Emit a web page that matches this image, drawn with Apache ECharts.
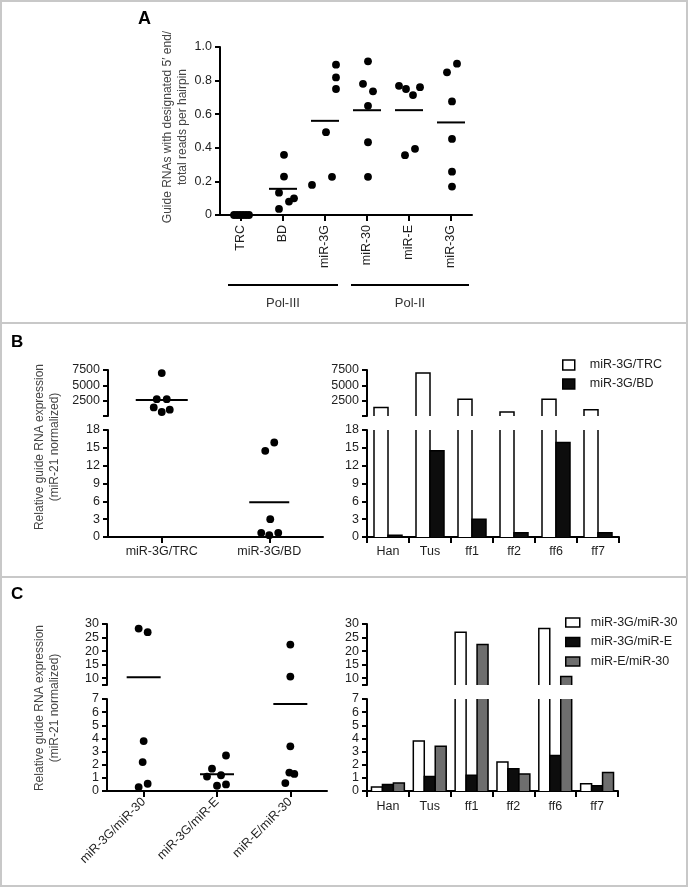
<!DOCTYPE html>
<html><head><meta charset="utf-8">
<script src="https://cdn.jsdelivr.net/npm/echarts@6/dist/echarts.min.js"></script>
<style>html,body{margin:0;padding:0;background:#fff}#c{width:688px;height:887px}</style>
</head><body><div id="c"></div>
<script>
const FONT = '"Liberation Sans", Arial, Helvetica, sans-serif';

// ---------- Panel A data ----------
const catsA = ['TRC', 'BD', 'miR-3G', 'miR-30', 'miR-E', 'miR-3G'];
const A_TRC = [0, 0, 0, 0, 0, 0];
const A_BD = [0.358, 0.229, 0.133, 0.080, 0.099, 0.036];
const A_miR3G_III = [0.895, 0.819, 0.750, 0.493, 0.179, 0.227];
const A_miR30 = [0.915, 0.781, 0.736, 0.650, 0.433, 0.227];
const A_miRE = [0.769, 0.750, 0.714, 0.761, 0.394, 0.356];
const A_miR3G_II = [0.901, 0.849, 0.676, 0.453, 0.258, 0.169];
const A_yTicks = [0, 0.2, 0.4, 0.6, 0.8, 1.0];
const polLabels = ['Pol-III', 'Pol-II'];

// ---------- Panels B & C data ----------
const cellLines = ['Han', 'Tus', 'ff1', 'ff2', 'ff6', 'ff7'];
const catsB = ['miR-3G/TRC', 'miR-3G/BD'];
const B_3G_TRC = [1400, 7000, 2750, 650, 2750, 1030];
const B_3G_BD = [0.3, 14.5, 3.0, 0.7, 15.9, 0.7];
const B_upperTicks = [2500, 5000, 7500];
const B_lowerTicks = [0, 3, 6, 9, 12, 15, 18];

const catsC = ['miR-3G/miR-30', 'miR-3G/miR-E', 'miR-E/miR-30'];
const C_3G_30 = [0.3, 3.8, 27.0, 2.2, 28.3, 0.55];
const C_3G_E = [0.5, 1.1, 1.2, 1.7, 2.7, 0.4];
const C_E_30 = [0.6, 3.4, 22.4, 1.3, 10.6, 1.4];
const C_upperTicks = [10, 15, 20, 25, 30];
const C_lowerTicks = [0, 1, 2, 3, 4, 5, 6, 7];

// horizontal jitter of dots (px), per category group
const jitA = [[-7, -4, -1, 2, 5, 8], [1, 1, -4, 6, 11, -4], [11, 11, 11, 1, -13, 7],
              [1, -4, 6, 1, 1, 1], [-10, -3, 4, 11, 6, -4], [6, -4, 1, 1, 1, 1]];
const jitB = [[-8, 0, -5, 0, 5, 8], [0, -4, 1, -8, 5, 9]];
const jitC = [[-5, 0, 4, -1, -5, 4], [9, -10, 4, -5, 9, 0], [-5, 0, 0, 4, 0, -1]];

// ---------- helpers ----------
const mean = a => a.reduce((s, v) => s + v, 0) / a.length;
const TXT = '#1e1e1e';
const AXC = '#000';

function yAx(gi, min, max, labelVals, tickVals, fmt) {
  return {
    type: 'value', gridIndex: gi, min, max,
    axisLine: { show: true, lineStyle: { color: AXC, width: 2 } },
    axisTick: { show: true, length: 5, customValues: tickVals, lineStyle: { color: AXC, width: 2 } },
    axisLabel: { show: true, customValues: labelVals, color: TXT, fontSize: 12.5, fontFamily: FONT, margin: 8,
      formatter: fmt || (v => String(v)) },
    splitLine: { show: false }
  };
}
function xAx(gi, data, opts) {
  opts = opts || {};
  if (opts.hidden) return { type: 'category', gridIndex: gi, data, show: false, boundaryGap: true };
  return {
    type: 'category', gridIndex: gi, data, boundaryGap: true,
    axisLine: { show: true, onZero: false, lineStyle: { color: AXC, width: 2 } },
    axisTick: { show: true, length: 6, alignWithLabel: !!opts.align, interval: 0, lineStyle: { color: AXC, width: 2 } },
    axisLabel: { show: true, interval: 0, rotate: opts.rotate || 0, color: TXT, fontSize: 12.5, fontFamily: FONT,
      margin: opts.margin || 8 },
    splitLine: { show: false }
  };
}
function grid(left, top, width, height) {
  return { left, top, width, height, containLabel: false, outerBoundsMode: 'none' };
}

function dots(groups, jit, xi, yi, pick) {
  const data = [];
  groups.forEach((arr, g) => arr.forEach((v, k) => {
    if (pick(v)) data.push({ value: [g, v], symbolOffset: [jit[g][k], 0] });
  }));
  return { type: 'scatter', xAxisIndex: xi, yAxisIndex: yi, symbol: 'circle', symbolSize: 7.8,
    itemStyle: { color: '#000', opacity: 1 }, data, z: 3, silent: true };
}
function means(groups, widths, xi, yi, pick) {
  const data = [];
  groups.forEach((arr, g) => {
    const m = mean(arr);
    if (pick(m)) data.push({ value: [g, m], symbolSize: [widths[g], 2] });
  });
  return { type: 'scatter', xAxisIndex: xi, yAxisIndex: yi, symbol: 'rect',
    itemStyle: { color: '#000', opacity: 1 }, data, z: 4, silent: true };
}
function bars(name, vals, xi, yi, k, n, frac, fill, showAbove) {
  return {
    type: 'custom', name, xAxisIndex: xi, yAxisIndex: yi, silent: true,
    itemStyle: { color: fill, borderColor: '#000' },
    encode: { x: 0, y: 1 },
    data: vals.map((v, i) => [i, v]),
    renderItem: (params, api) => {
      const cs = params.coordSys;
      const i = api.value(0), v = api.value(1);
      if (!(v > showAbove)) return null;
      const band = cs.width / cellLines.length;
      const bw = band * frac;
      const p = api.coord([i, v]);
      const x0 = p[0] - n * bw / 2 + k * bw, x1 = x0 + bw;
      const yBase = cs.y + cs.height;
      let yTop = p[1];
      const clipped = yTop < cs.y;
      if (clipped) yTop = cs.y;
      if (yTop >= yBase) return null;
      const ls = { stroke: '#000', lineWidth: 1.5, fill: null };
      const children = [{ type: 'rect', shape: { x: x0, y: yTop, width: bw, height: yBase - yTop },
        style: { fill, stroke: null } }];
      if (clipped) {
        children.push({ type: 'line', shape: { x1: x0, y1: yTop, x2: x0, y2: yBase }, style: ls });
        children.push({ type: 'line', shape: { x1: x1, y1: yTop, x2: x1, y2: yBase }, style: ls });
      } else {
        children.push({ type: 'polyline', shape: { points: [[x0, yBase], [x0, yTop], [x1, yTop], [x1, yBase]] }, style: ls });
      }
      return { type: 'group', children };
    }
  };
}

// ---------- build ----------
const groupsA = [A_TRC, A_BD, A_miR3G_III, A_miR30, A_miRE, A_miR3G_II];
const groupsB = [B_3G_TRC, B_3G_BD];
const groupsC = [C_3G_30, C_3G_E, C_E_30];
const B_thr = 18, C_thr = 7;
const all = () => true;

const fmtA = v => (v === 0 ? '0' : v.toFixed(1));

const option = {
  animation: false,
  backgroundColor: '#fff',
  textStyle: { fontFamily: FONT },
  grid: [
    grid(220, 47, 252, 168),   // A
    grid(108, 370, 215, 46),   // B left upper
    grid(108, 430, 215, 107),  // B left lower
    grid(367, 370, 252, 46),   // B right upper
    grid(367, 430, 252, 107),  // B right lower
    grid(107, 624, 220, 61),   // C left upper
    grid(107, 699, 220, 92),   // C left lower
    grid(367, 624, 251, 61),   // C right upper
    grid(367, 699, 251, 92)    // C right lower
  ],
  xAxis: [
    xAx(0, catsA, { align: true, rotate: 90, margin: 10 }),
    xAx(1, catsB, { hidden: true }),
    xAx(2, catsB, { align: true, margin: 8 }),
    xAx(3, cellLines, { hidden: true }),
    xAx(4, cellLines, { margin: 8 }),
    xAx(5, catsC, { hidden: true }),
    xAx(6, catsC, { align: true, rotate: 45, margin: 9 }),
    xAx(7, cellLines, { hidden: true }),
    xAx(8, cellLines, { margin: 9 })
  ],
  yAxis: [
    yAx(0, 0, 1, A_yTicks, A_yTicks, fmtA),
    yAx(1, 0, 7500, B_upperTicks, [0].concat(B_upperTicks)),
    yAx(2, 0, 18, B_lowerTicks, B_lowerTicks),
    yAx(3, 0, 7500, B_upperTicks, [0].concat(B_upperTicks)),
    yAx(4, 0, 18, B_lowerTicks, B_lowerTicks),
    yAx(5, 7.5, 30, C_upperTicks, [7.5].concat(C_upperTicks)),
    yAx(6, 0, 7, C_lowerTicks, C_lowerTicks),
    yAx(7, 7.5, 30, C_upperTicks, [7.5].concat(C_upperTicks)),
    yAx(8, 0, 7, C_lowerTicks, C_lowerTicks)
  ],
  legend: [
    { left: 562, top: 358, orient: 'vertical', padding: 0, itemWidth: 12, itemHeight: 10, itemGap: 5,
      selectedMode: false,
      textStyle: { fontSize: 12.5, color: TXT, fontFamily: FONT, lineHeight: 14, padding: [0, 0, 0, 10] },
      data: [
        { name: 'miR-3G/TRC', icon: 'rect', itemStyle: { color: '#fff', borderColor: '#000', borderWidth: 1.5 } },
        { name: 'miR-3G/BD', icon: 'rect', itemStyle: { color: '#0d0d0d', borderColor: '#000', borderWidth: 1.5 } }
      ] },
    { left: 565, top: 615.5, orient: 'vertical', padding: 0, itemWidth: 14, itemHeight: 9, itemGap: 5.5,
      selectedMode: false,
      textStyle: { fontSize: 12.5, color: TXT, fontFamily: FONT, lineHeight: 14, padding: [0, 0, 0, 6] },
      data: [
        { name: 'miR-3G/miR-30', icon: 'rect', itemStyle: { color: '#fff', borderColor: '#000', borderWidth: 1.5 } },
        { name: 'miR-3G/miR-E', icon: 'rect', itemStyle: { color: '#0d0d0d', borderColor: '#000', borderWidth: 1.5 } },
        { name: 'miR-E/miR-30', icon: 'rect', itemStyle: { color: '#6e6e6e', borderColor: '#000', borderWidth: 1.5 } }
      ] }
  ],
  series: [
    // Panel A
    dots(groupsA, jitA, 0, 0, all),
    means(groupsA, [28, 28, 28, 28, 28, 28], 0, 0, all),
    // Panel B left (broken axis)
    dots(groupsB, jitB, 1, 1, v => v > B_thr),
    dots(groupsB, jitB, 2, 2, v => v <= B_thr),
    means(groupsB, [52, 40], 1, 1, v => v > B_thr),
    means(groupsB, [52, 40], 2, 2, v => v <= B_thr),
    // Panel B right bars
    bars('miR-3G/TRC', B_3G_TRC, 3, 3, 0, 2, 1 / 3, '#fff', B_thr),
    bars('miR-3G/BD', B_3G_BD, 3, 3, 1, 2, 1 / 3, '#0d0d0d', B_thr),
    bars('miR-3G/TRC', B_3G_TRC, 4, 4, 0, 2, 1 / 3, '#fff', -Infinity),
    bars('miR-3G/BD', B_3G_BD, 4, 4, 1, 2, 1 / 3, '#0d0d0d', -Infinity),
    // Panel C left (broken axis)
    dots(groupsC, jitC, 5, 5, v => v > C_thr),
    dots(groupsC, jitC, 6, 6, v => v <= C_thr),
    means(groupsC, [34, 34, 34], 5, 5, v => v > C_thr),
    means(groupsC, [34, 34, 34], 6, 6, v => v <= C_thr),
    // Panel C right bars
    bars('miR-3G/miR-30', C_3G_30, 7, 7, 0, 3, 0.262, '#fff', C_thr),
    bars('miR-3G/miR-E', C_3G_E, 7, 7, 1, 3, 0.262, '#0d0d0d', C_thr),
    bars('miR-E/miR-30', C_E_30, 7, 7, 2, 3, 0.262, '#6e6e6e', C_thr),
    bars('miR-3G/miR-30', C_3G_30, 8, 8, 0, 3, 0.262, '#fff', -Infinity),
    bars('miR-3G/miR-E', C_3G_E, 8, 8, 1, 3, 0.262, '#0d0d0d', -Infinity),
    bars('miR-E/miR-30', C_E_30, 8, 8, 2, 3, 0.262, '#6e6e6e', -Infinity)
  ],
  graphic: [
    { type: 'rect', silent: true, z: 0, shape: { x: 1, y: 1, width: 686, height: 885 },
      style: { fill: null, stroke: '#c8c8c8', lineWidth: 2 } },
    { type: 'line', silent: true, shape: { x1: 0, y1: 323, x2: 688, y2: 323 }, style: { stroke: '#c8c8c8', lineWidth: 2 } },
    { type: 'line', silent: true, shape: { x1: 0, y1: 577, x2: 688, y2: 577 }, style: { stroke: '#c8c8c8', lineWidth: 2 } },
    // panel letters
    { type: 'text', x: 138, y: 10, style: { text: 'A', font: 'bold 18px ' + FONT, fill: '#000', align: 'left', verticalAlign: 'top' } },
    { type: 'text', x: 11, y: 334, style: { text: 'B', font: 'bold 17px ' + FONT, fill: '#000', align: 'left', verticalAlign: 'top' } },
    { type: 'text', x: 11, y: 586, style: { text: 'C', font: 'bold 17px ' + FONT, fill: '#000', align: 'left', verticalAlign: 'top' } },
    // Pol-III / Pol-II brackets
    { type: 'line', silent: true, shape: { x1: 228, y1: 285, x2: 338, y2: 285 }, style: { stroke: '#000', lineWidth: 2 } },
    { type: 'line', silent: true, shape: { x1: 351, y1: 285, x2: 469, y2: 285 }, style: { stroke: '#000', lineWidth: 2 } },
    { type: 'text', x: 283, y: 303, style: { text: polLabels[0], font: '13px ' + FONT, fill: '#333', align: 'center', verticalAlign: 'middle' } },
    { type: 'text', x: 410, y: 303, style: { text: polLabels[1], font: '13px ' + FONT, fill: '#333', align: 'center', verticalAlign: 'middle' } },
    // y-axis titles
    { type: 'text', x: 175, y: 127, rotation: Math.PI / 2,
      style: { text: 'Guide RNAs with designated 5\u2032 end/\ntotal reads per hairpin', font: '12px ' + FONT, lineHeight: 15,
        fill: '#444', align: 'center', verticalAlign: 'middle' } },
    { type: 'text', x: 47.5, y: 447, rotation: Math.PI / 2,
      style: { text: 'Relative guide RNA expression\n(miR-21 normalized)', font: '12px ' + FONT, lineHeight: 15,
        fill: '#444', align: 'center', verticalAlign: 'middle' } },
    { type: 'text', x: 47.5, y: 708, rotation: Math.PI / 2,
      style: { text: 'Relative guide RNA expression\n(miR-21 normalized)', font: '12px ' + FONT, lineHeight: 15,
        fill: '#444', align: 'center', verticalAlign: 'middle' } }
  ]
};

const chart = echarts.init(document.getElementById('c'), null, { renderer: 'canvas' });
chart.setOption(option);
</script>
</body></html>
